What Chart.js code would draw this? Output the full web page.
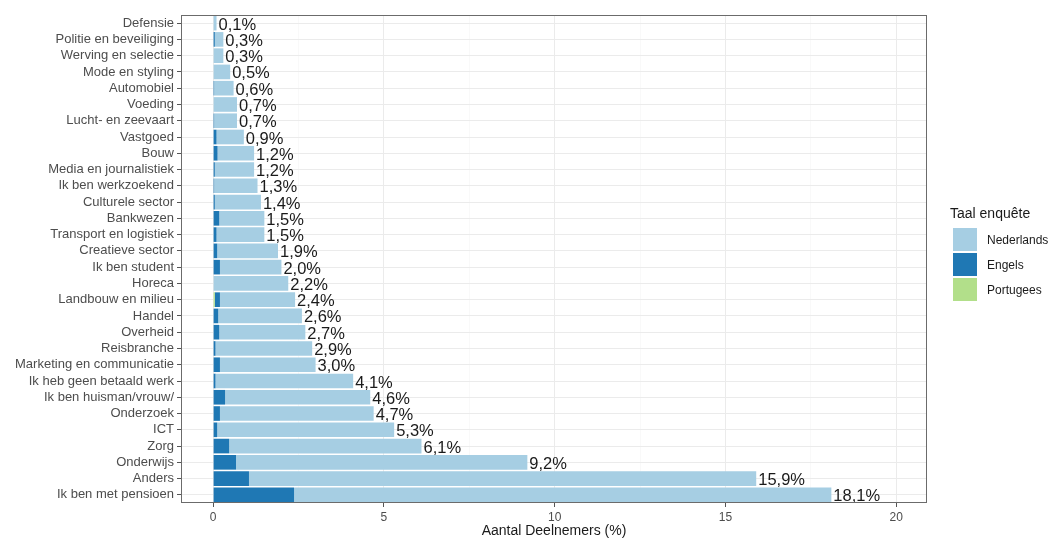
<!DOCTYPE html>
<html>
<head>
<meta charset="utf-8">
<script src="https://cdn.jsdelivr.net/npm/chart.js@4"></script>
<style>
  body { margin: 0; background: #fff; }
  #wrap { position: relative; width: 1054px; height: 540px; }
  #legend { position: absolute; left: 950px; top: 205px; font-family: "Liberation Sans", Arial, sans-serif; }
  #legend .titel { font-size: 14px; color: #1a1a1a; margin-bottom: 6px; }
  #legend .item { display: flex; align-items: center; height: 25px; font-size: 12px; color: #1a1a1a; }
  #legend .box { width: 24px; height: 23px; margin: 0 10px 0 3px; }
</style>
</head>
<body>
<div id="wrap">
  <canvas id="grafiek" width="1054" height="540"></canvas>
  <div id="legend"></div>
</div>
<script>
// categorieën van boven naar beneden
const categorieen = [
    'Defensie', 'Politie en beveiliging', 'Werving en selectie', 'Mode en styling',
    'Automobiel', 'Voeding', 'Lucht- en zeevaart', 'Vastgoed', 'Bouw',
    'Media en journalistiek', 'Ik ben werkzoekend', 'Culturele sector', 'Bankwezen',
    'Transport en logistiek', 'Creatieve sector', 'Ik ben student', 'Horeca',
    'Landbouw en milieu', 'Handel', 'Overheid', 'Reisbranche',
    'Marketing en communicatie', 'Ik heb geen betaald werk', 'Ik ben huisman/vrouw/',
    'Onderzoek', 'ICT', 'Zorg', 'Onderwijs', 'Anders', 'Ik ben met pensioen'
];

// aandeel per taal (%)
const portugees = [0, 0, 0, 0, 0, 0, 0, 0, 0, 0, 0, 0, 0, 0, 0, 0, 0, 0.05, 0, 0, 0, 0, 0, 0, 0, 0, 0, 0, 0, 0];
const engels = [0, 0.05, 0, 0, 0.03, 0, 0.03, 0.1, 0.13, 0.05, 0.03, 0.05, 0.18, 0.1, 0.12, 0.2, 0, 0.15, 0.15, 0.18,
    0.07, 0.2, 0.07, 0.35, 0.2, 0.12, 0.47, 0.67, 1.05, 2.37];
const nederlands = [0.1, 0.25, 0.3, 0.5, 0.57, 0.7, 0.67, 0.8, 1.07, 1.15, 1.27, 1.35, 1.32, 1.4, 1.78, 1.8, 2.2, 2.2,
    2.45, 2.52, 2.83, 2.8, 4.03, 4.25, 4.5, 5.18, 5.63, 8.53, 14.85, 15.73];

// labels aan het eind van de balken
const totaalLabels = ['0,1%', '0,3%', '0,3%', '0,5%', '0,6%', '0,7%', '0,7%', '0,9%', '1,2%', '1,2%', '1,3%', '1,4%',
    '1,5%', '1,5%', '1,9%', '2,0%', '2,2%', '2,4%', '2,6%', '2,7%', '2,9%', '3,0%', '4,1%', '4,6%', '4,7%', '5,3%',
    '6,1%', '9,2%', '15,9%', '18,1%'];

const xTicks = [0, 2.5, 5, 7.5, 10, 12.5, 15, 17.5, 20];

const kleuren = { Nederlands: '#a6cee3', Engels: '#1f78b4', Portugees: '#b2df8a' };
const lettertype = '"Liberation Sans", Arial, sans-serif';

// legenda (zoals ggplot)
const legend = document.getElementById('legend');
legend.innerHTML = '<div class="titel">Taal enquête</div>' +
    Object.keys(kleuren).map(naam =>
        `<div class="item"><span class="box" style="background:${kleuren[naam]}"></span>${naam}</div>`
    ).join('');

// kader om het paneel + percentages bij de balken
const paneelPlugin = {
    id: 'paneel',
    afterDatasetsDraw(chart) {
        const ctx = chart.ctx;
        const area = chart.chartArea;
        const meta = chart.getDatasetMeta(chart.data.datasets.length - 1);
        ctx.save();
        ctx.font = '16.5px ' + lettertype;
        ctx.fillStyle = '#1a1a1a';
        ctx.textBaseline = 'middle';
        meta.data.forEach((bar, i) => {
            ctx.fillText(totaalLabels[i], bar.x + 2, bar.y + 2);
        });
        ctx.strokeStyle = '#6b6b6b';
        ctx.lineWidth = 1;
        ctx.strokeRect(area.left + 0.5, area.top + 0.5, area.right - area.left - 1, area.bottom - area.top - 1);
        ctx.restore();
    }
};

new Chart(document.getElementById('grafiek'), {
    type: 'bar',
    data: {
        labels: categorieen,
        datasets: [
            { label: 'Portugees', data: portugees, backgroundColor: kleuren.Portugees },
            { label: 'Engels', data: engels, backgroundColor: kleuren.Engels },
            { label: 'Nederlands', data: nederlands, backgroundColor: kleuren.Nederlands }
        ]
    },
    options: {
        indexAxis: 'y',
        responsive: false,
        animation: false,
        barPercentage: 0.9,
        categoryPercentage: 1,
        layout: { padding: { top: 15, right: 127, left: 0, bottom: 0 } },
        scales: {
            x: {
                stacked: true,
                min: -0.94,
                max: 20.9,
                afterBuildTicks: scale => { scale.ticks = xTicks.map(v => ({ value: v })); },
                afterFit: scale => { scale.height = 37; },
                grid: {
                    color: c => (c.tick && c.tick.value % 5 === 0) ? '#ebebeb' : '#f5f5f5',
                    lineWidth: c => (c.tick && c.tick.value % 5 === 0) ? 1 : 0.6,
                    tickColor: c => (c.tick && c.tick.value % 5 === 0) ? '#555555' : 'rgba(0,0,0,0)',
                    tickLength: 4
                },
                border: { display: false },
                ticks: {
                    autoSkip: false,
                    maxRotation: 0,
                    padding: 3,
                    color: '#4d4d4d',
                    font: { family: lettertype, size: 12 },
                    callback: v => (v % 5 === 0 ? String(v) : '')
                },
                title: {
                    display: true,
                    text: 'Aantal Deelnemers (%)',
                    color: '#1a1a1a',
                    padding: { top: 2, bottom: 0 },
                    font: { family: lettertype, size: 14 }
                }
            },
            y: {
                stacked: true,
                afterFit: scale => { scale.width = 181; },
                grid: { offset: false, color: '#ebebeb', tickColor: '#555555', tickLength: 4 },
                border: { display: false },
                ticks: {
                    autoSkip: false,
                    padding: 3,
                    color: '#4d4d4d',
                    font: { family: lettertype, size: 13 }
                }
            }
        },
        plugins: {
            legend: { display: false },
            tooltip: { enabled: false }
        }
    },
    plugins: [paneelPlugin]
});
</script>
</body>
</html>
